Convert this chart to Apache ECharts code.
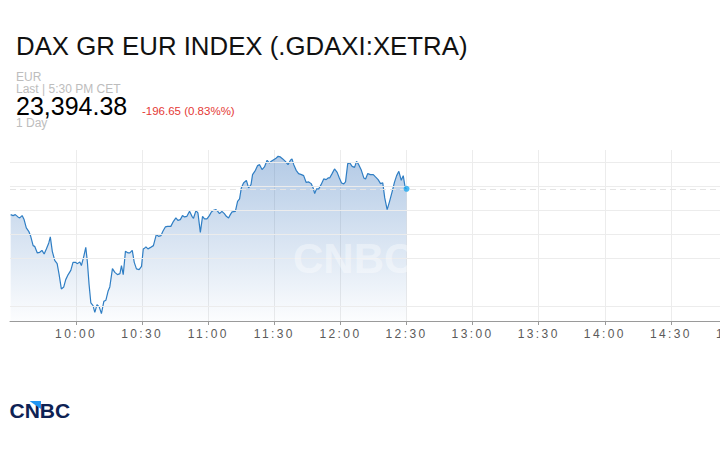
<!DOCTYPE html>
<html>
<head>
<meta charset="utf-8">
<script src="https://cdn.jsdelivr.net/npm/echarts@6/dist/echarts.min.js"></script>
<style>
  html, body { margin: 0; padding: 0; background: #fff; }
  #chart { width: 720px; height: 450px; }
  #chart svg text[style*="Helvetica"] { letter-spacing: 2.4px; }
</style>
</head>
<body>
<div id="chart"></div>
<script>
// ---- data (time in minutes since midnight, index value) ----
const times = [
  570.3,571.4,572.4,573.6,574.4,575.5,576.4,577.4,578.5,579.4,
  580.5,581.2,582.4,583.5,584.5,585.5,586.5,587.6,588.3,589.2,
  590.3,591.4,592.3,593.3,594.4,595.3,596.4,597.6,598.6,599.7,
  600.6,601.7,602.4,603.5,604.4,605.1,605.9,606.7,607.7,608.5,
  609.5,610.5,611.5,612.6,613.5,614.5,615.3,616.5,617.6,618.8,
  619.9,620.6,621.4,622.4,623.6,624.4,625.5,626.4,627.4,628.6,
  629.7,630.5,631.2,
  631.7,632.6,633.6,635.1,636.4,637.4,638.5,639.4,640.5,641.5,
  643.0,644.2,645.3,646.2,647.3,648.3,649.2,650.3,651.5,652.6,
  653.3,654.4,655.3,656.4,657.4,658.3,659.4,660.5,661.4,662.4,
  663.5,664.4,665.1,666.2,667.3,668.2,669.2,670.0,670.8,672.3,
  673.3,674.2,675.0,676.0,677.3,678.3,679.4,680.1,681.4,682.4,
  683.3,684.4,685.5,686.7,687.7,688.6,689.7,690.9,
  691.7,692.7,693.8,695.0,696.2,697.3,698.0,698.8,699.9,701.0,
  702.3,703.3,704.4,705.6,706.7,707.6,708.3,709.1,710.1,711.2,
  712.4,713.5,714.4,715.1,716.2,717.3,718.5,719.5,720.5,721.5,
  722.3,723.3,724.2,725.3,726.4,727.3,728.3,729.5,730.6,731.4,
  732.4,733.6,734.9,735.9,737.1,738.2,739.2,740.1,741.2,742.3,
  743.5,744.5,745.5,746.5,747.6,748.5,749.4,750
];
const values = [
  23340.8,23338.8,23340.8,23336.1,23334.0,23338.8,23330.5,23313.2,23306.2,23295.8,
  23276.5,23275.0,23261.3,23262.6,23266.7,23259.2,23269.6,23282.1,23294.5,23264.6,
  23246.0,23239.1,23216.3,23186.6,23190.7,23205.9,23216.3,23225.2,23241.8,23241.8,
  23239.1,23242.6,23235.0,23254.3,23272.9,23243.9,23195.5,23157.5,23151.9,23138.0,
  23154.0,23149.2,23135.3,23160.8,23162.9,23181.6,23190.7,23228.7,23221.0,23216.3,
  23218.3,23235.0,23216.3,23264.6,23261.3,23261.3,23266.7,23241.8,23228.1,23226.7,
  23233.5,23269.6,23271.7,
  23273.8,23269.6,23272.3,23276.5,23299.3,23295.8,23297.2,23306.2,23315.3,23316.5,
  23316.5,23326.9,23334.0,23329.0,23330.5,23338.8,23336.1,23337.3,23347.7,23337.3,
  23333.2,23349.1,23344.4,23304.1,23337.3,23331.9,23331.9,23338.8,23346.4,23349.8,
  23351.2,23347.1,23342.9,23347.7,23342.9,23337.3,23334.0,23340.8,23346.4,23347.7,
  23368.4,23373.4,23396.3,23406.6,23412.0,23396.3,23403.1,23423.9,23432.8,23442.6,
  23444.6,23434.3,23439.9,23453.6,23448.2,23451.5,23455.0,23458.5,
  23461.9,23460.6,23456.5,23451.5,23444.6,23453.6,23456.5,23444.6,23432.8,23426.0,
  23423.9,23421.8,23407.9,23408.7,23405.2,23396.3,23384.4,23394.2,23394.2,23403.1,
  23414.9,23413.5,23417.0,23417.0,23426.0,23435.7,23428.6,23417.0,23406.6,23404.6,
  23408.7,23446.7,23448.2,23441.1,23439.0,23451.5,23444.6,23432.8,23417.0,23414.9,
  23426.0,23423.9,23423.9,23419.1,23413.5,23405.2,23406.6,23375.5,23351.2,23368.4,
  23389.2,23407.9,23421.8,23430.7,23412.0,23421.8,23396.3,23394.38
];
const tickTimes = [600, 630, 660, 690, 720, 750, 780, 810, 840, 870, 900];
const tickLabels = ['10:00','10:30','11:00','11:30','12:00','12:30','13:00','13:30','14:00','14:30','15:00'];
const gridValues = [23450, 23400, 23350, 23300, 23250, 23150];

const titleText = 'DAX GR EUR INDEX (.GDAXI:XETRA)';
const currencyText = 'EUR';
const lastText = 'Last | 5:30 PM CET';
const priceText = '23,394.38';
const changeText = '-196.65 (0.83%%)';
const rangeText = '1 Day';

const seriesData = times.map((t, i) => [t, values[i]]);
const lastPoint = seriesData[seriesData.length - 1];

const chart = echarts.init(document.getElementById('chart'), null, { renderer: 'svg', width: 720, height: 450 });
const F = "'Liberation Sans', Arial, sans-serif";

chart.setOption({
  animation: false,
  backgroundColor: '#fff',
  grid: { left: 10, right: -17, top: 150, bottom: 129, containLabel: false, outerBoundsMode: 'none' },
  xAxis: {
    type: 'value',
    min: 570, max: 900, interval: 30,
    axisLine: { show: true, lineStyle: { color: '#9a9a9a', width: 1 } },
    axisTick: { show: true, length: 4, customValues: tickTimes, lineStyle: { color: '#9a9a9a' } },
    axisLabel: {
      customValues: tickTimes,
      color: '#5a5a5a', fontSize: 12, margin: 7,
      fontFamily: "Helvetica, 'Liberation Sans', Arial",
      formatter: v => tickLabels[tickTimes.indexOf(Math.round(v))] || ''
    },
    splitLine: { show: true, lineStyle: { color: '#ececec', width: 1 } }
  },
  yAxis: {
    type: 'value', min: 23120, max: 23475,
    axisLine: { show: false }, axisTick: { show: false }, axisLabel: { show: false },
    splitLine: { show: false }
  },
  series: [
    {
      type: 'line', data: [], silent: true, z: 1,
      markLine: {
        silent: true, symbol: 'none', label: { show: false },
        lineStyle: { color: '#ececec', type: 'solid', width: 1 },
        data: gridValues.map(v => ({ yAxis: v }))
      }
    },
    {
      type: 'line', data: seriesData, z: 3,
      showSymbol: false, silent: true,
      lineStyle: { color: '#2f7ec4', width: 1.2 },
      areaStyle: {
        color: new echarts.graphic.LinearGradient(0, 0, 0, 1, [
          { offset: 0, color: 'rgba(47,110,185,0.52)' },
          { offset: 1, color: 'rgba(47,110,185,0.02)' }
        ])
      },
      markLine: {
        silent: true, symbol: 'none', label: { show: false },
        lineStyle: { color: '#e4e4e4', type: [6, 4], width: 1 },
        data: [{ yAxis: lastPoint[1] }]
      }
    },
    {
      type: 'scatter', data: [lastPoint], z: 5, silent: true,
      symbol: 'circle', symbolSize: 6,
      itemStyle: { color: '#1ea7ef' }
    }
  ],
  graphic: [
    { type: 'text', z: 100, silent: true, style: { text: 'CNBC', x: 293, y: 258, font: "bold 42px " + F, fill: 'rgba(255,255,255,0.4)', verticalAlign: 'middle' } },
    { type: 'text', silent: true, style: { text: titleText, x: 16, y: 45.5, font: "25.8px " + F, fill: '#111', verticalAlign: 'middle' } },
    { type: 'text', silent: true, style: { text: currencyText, x: 16, y: 76.5, font: "12px " + F, fill: '#bdbdbd', verticalAlign: 'middle' } },
    { type: 'text', silent: true, style: { text: lastText, x: 16, y: 89.3, font: "12px " + F, fill: '#bdbdbd', verticalAlign: 'middle' } },
    { type: 'text', silent: true, style: { text: priceText, x: 16, y: 106, font: "25px " + F, fill: '#000', verticalAlign: 'middle' } },
    { type: 'text', silent: true, style: { text: changeText, x: 142, y: 111.3, font: "11.5px " + F, fill: '#e53935', verticalAlign: 'middle' } },
    { type: 'text', silent: true, style: { text: rangeText, x: 16, y: 122.5, font: "12px " + F, fill: '#bdbdbd', verticalAlign: 'middle' } },
    { type: 'text', silent: true, style: { text: 'CNBC', x: 9.5, y: 410.5, font: "bold 21px " + F, fill: '#0e2254', verticalAlign: 'middle' } },
    { type: 'polygon', silent: true, z: 10, shape: { points: [[29.5, 401], [41, 401], [41, 409]] }, style: { fill: '#2196f3' } }
  ]
});
</script>
</body>
</html>
